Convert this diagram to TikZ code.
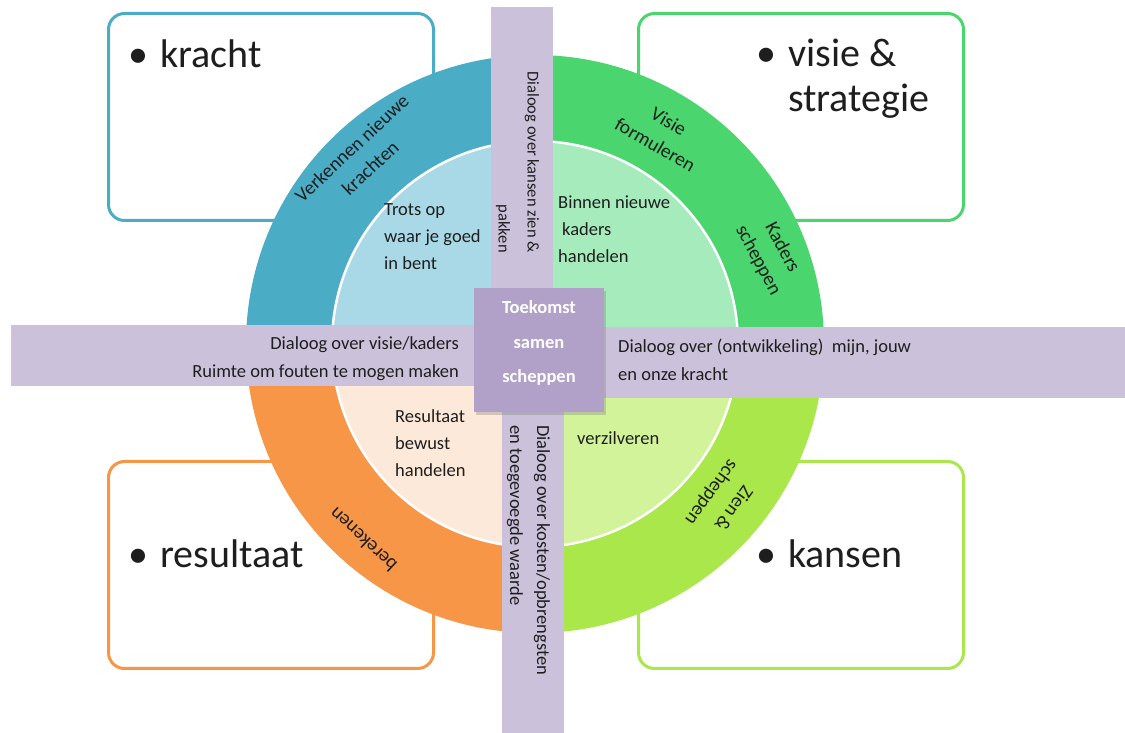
\documentclass[tikz,border=0pt]{standalone}
\usepackage{fontspec}
\setmainfont{Carlito}
\usetikzlibrary{shadows}

\definecolor{tealRing}{HTML}{4BACC6}
\definecolor{tealIn}{HTML}{A9D9E6}
\definecolor{greenRing}{HTML}{4BD56F}
\definecolor{greenIn}{HTML}{A6EBBC}
\definecolor{orangeRing}{HTML}{F79646}
\definecolor{orangeIn}{HTML}{FDE9D9}
\definecolor{limeRing}{HTML}{A9E74B}
\definecolor{limeIn}{HTML}{D3F39B}
\definecolor{bandPurple}{HTML}{CCC1DA}
\definecolor{corePurple}{HTML}{B1A0C7}
\definecolor{ink}{HTML}{1E1E1E}

\newcommand\bul{\makebox[32pt][l]{•}}

\begin{document}
\begin{tikzpicture}[x=1pt,y=1pt,
  cornerbox/.style={draw, line width=3pt, rounded corners=16pt, fill=white,
    anchor=south west, minimum width=325pt, minimum height=207pt},
  bigtext/.style={font=\fontsize{40}{45}\selectfont, text=ink, inner sep=0pt},
  smalltext/.style={font=\fontsize{18.5}{27}\selectfont, text=ink, inner sep=0pt},
  ringtext/.style={font=\fontsize{19.5}{27}\selectfont, text=ink, inner sep=0pt, align=center},
  band/.style={fill=bandPurple, anchor=south west, inner sep=0pt},
  bandtext/.style={font=\fontsize{18.5}{28}\selectfont, text=ink, inner sep=0pt},
]
\useasboundingbox (0,0) rectangle (1125,733);
\fill[white] (0,0) rectangle (1125,733);

% corner boxes
\node[cornerbox, draw=tealRing]   (boxKracht)    at (107,511) {};
\node[cornerbox, draw=greenRing]  (boxVisie)     at (637,511) {};
\node[cornerbox, draw=orangeRing] (boxResultaat) at (107,63)  {};
\node[cornerbox, draw=limeRing]   (boxKansen)    at (637,63)  {};

\node[bigtext, anchor=base west] (tKracht) at (128,665) {\bul kracht};
\node[bigtext, anchor=base west, align=left] (tVisie) at (756,621) {\bul visie \&\\\hspace{32pt}strategie};
\node[bigtext, anchor=base west] (tResultaat) at (128,165) {\bul resultaat};
\node[bigtext, anchor=base west] (tKansen) at (756,165) {\bul kansen};

% ring and inner disc, one quadrant each
\coordinate (c) at (535,389);
\fill[greenRing]  (c) -- ++(0:289pt)   arc[start angle=0,   end angle=90,  radius=289pt] -- cycle;
\fill[tealRing]   (c) -- ++(90:289pt)  arc[start angle=90,  end angle=180, radius=289pt] -- cycle;
\fill[orangeRing] (c) -- ++(180:289pt) arc[start angle=180, end angle=270, radius=289pt] -- cycle;
\fill[limeRing]   (c) -- ++(270:289pt) arc[start angle=270, end angle=360, radius=289pt] -- cycle;
\fill[greenIn]  (c) -- ++(0:203pt)   arc[start angle=0,   end angle=90,  radius=203pt] -- cycle;
\fill[tealIn]   (c) -- ++(90:203pt)  arc[start angle=90,  end angle=180, radius=203pt] -- cycle;
\fill[orangeIn] (c) -- ++(180:203pt) arc[start angle=180, end angle=270, radius=203pt] -- cycle;
\fill[limeIn]   (c) -- ++(270:203pt) arc[start angle=270, end angle=360, radius=203pt] -- cycle;
\draw[white, line width=2.5pt] (c) circle[radius=203pt];

% labels on the ring
\node[ringtext, rotate=43]  (rKracht) at (361,575) {Verkennen nieuwe\\krachten};
\node[ringtext, rotate=-30] (rVisie)  at (662,600) {Visie\\formuleren};
\node[ringtext, rotate=-62] (rKaders) at (770,479) {Kaders\\scheppen};
\node[ringtext, rotate=234] (rZien)   at (722,233) {Zien \&\\scheppen};
\node[ringtext, rotate=137] (rBerekenen) at (363,193) {berekenen};

% labels in the inner disc
\node[smalltext, align=left, anchor=west] (iTrots) at (384,496) {Trots op\\waar je goed\\in bent};
\node[smalltext, align=left, anchor=west] (iBinnen) at (558,504) {Binnen nieuwe\\\hspace{4pt}kaders\\handelen};
\node[smalltext, align=left, anchor=west] (iResultaat) at (395,290) {Resultaat\\bewust\\handelen};
\node[smalltext, anchor=west] (iVerzilveren) at (577,295) {verzilveren};

% dialogue bands
\node[band, minimum width=463pt, minimum height=61pt] (bandLeft)   at (11,347)  {};
\node[band, minimum width=521pt, minimum height=71pt] (bandRight)  at (604,335) {};
\node[band, minimum width=62pt, minimum height=281pt] (bandTop)    at (491,445) {};
\node[band, minimum width=62pt, minimum height=321pt] (bandBottom) at (502,0)   {};

\node[bandtext, align=right, anchor=east] (dLeft) at (459,374.5)
  {Dialoog over visie/kaders\\Ruimte om fouten te mogen maken};
\node[bandtext, align=left, anchor=west] (dRight) at (618,373.5)
  {Dialoog over (ontwikkeling)\ \ mijn, jouw\\en onze kracht};
\node[bandtext, align=right, anchor=east, rotate=-90, font=\fontsize{16.5}{29}\selectfont]
  (dTop) at (517.5,480) {Dialoog over kansen zien \&\\pakken};
\node[bandtext, align=left, anchor=west, rotate=-90, font=\fontsize{18.5}{27}\selectfont]
  (dBottom) at (528.5,308) {Dialoog over kosten/opbrengsten\\en toegevoegde waarde};

% centre block
\node[fill=corePurple, minimum width=130pt, minimum height=124pt, inner sep=0pt,
  drop shadow={shadow xshift=2pt, shadow yshift=-3pt, opacity=0.35}]
  (core) at (539,383) {};
\node[align=center, text=white, inner sep=0pt, font=\bfseries\fontsize{18.5}{34.5}\selectfont]
  (coreText) at (539,390) {Toekomst\\samen\\scheppen};
\end{tikzpicture}
\end{document}
